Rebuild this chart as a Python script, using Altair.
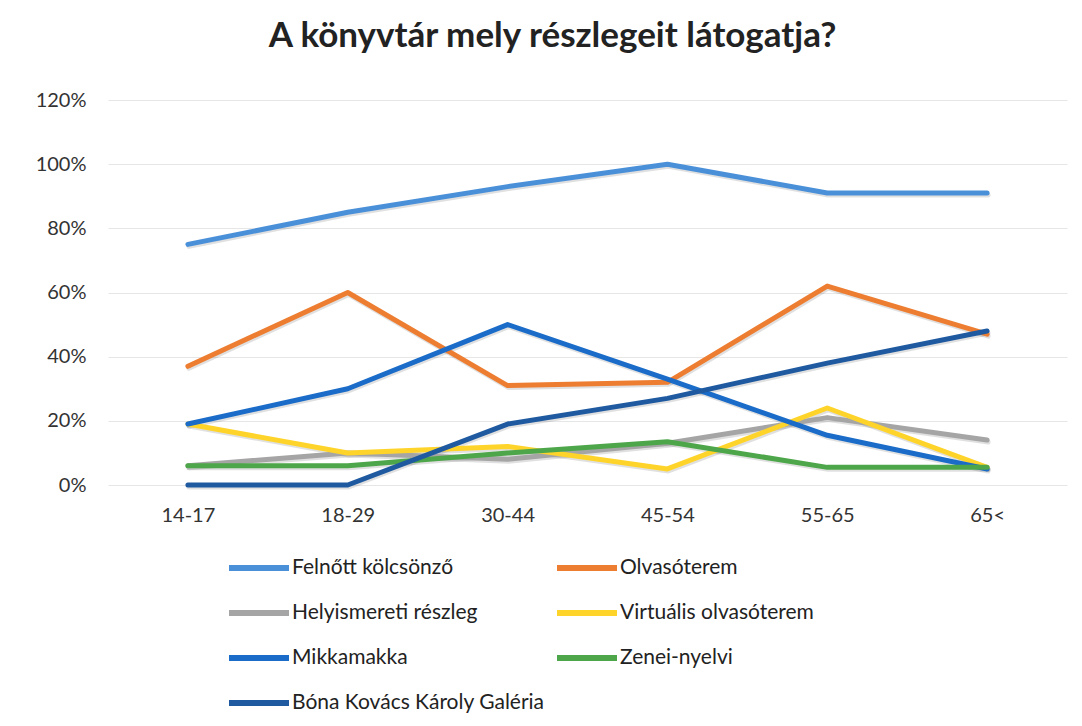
import altair as alt
import pandas as pd

ages = ["14-17", "18-29", "30-44", "45-54", "55-65", "65<"]
series = [
    "Felnőtt kölcsönző",
    "Olvasóterem",
    "Helyismereti részleg",
    "Virtuális olvasóterem",
    "Mikkamakka",
    "Zenei-nyelvi",
    "Bóna Kovács Károly Galéria",
]
felnott = [0.75, 0.85, 0.93, 1.00, 0.91, 0.91]
olvaso = [0.37, 0.60, 0.31, 0.32, 0.62, 0.47]
helyism = [0.06, 0.10, 0.08, 0.13, 0.21, 0.14]
virtualis = [0.19, 0.10, 0.12, 0.05, 0.24, 0.055]
mikkamakka = [0.19, 0.30, 0.50, 0.33, 0.155, 0.05]
zenei = [0.06, 0.06, 0.10, 0.135, 0.055, 0.055]
bona = [0.0, 0.0, 0.19, 0.27, 0.38, 0.48]
colors = ["#4A90D9", "#ED7D31", "#A5A5A5", "#FFD42A", "#1A6CC8", "#4EA64A", "#1F5AA0"]

values = [felnott, olvaso, helyism, virtualis, mikkamakka, zenei, bona]
rows = []
for si, (name, vals) in enumerate(zip(series, values)):
    for a, v in zip(ages, vals):
        rows.append({"age": a, "series": name, "value": v, "order": si})
df = pd.DataFrame(rows)

FONT = "Lato"

x_enc = alt.X("age:N", sort=ages, title=None,
              scale=alt.Scale(type="point", padding=0.5),
              axis=alt.Axis(labelAngle=0, labelFontSize=20, labelColor="#333333", labelFont=FONT,
                            ticks=False, domain=False, grid=False, labelPadding=20))
y_enc = alt.Y("value:Q", title=None,
              scale=alt.Scale(domain=[0, 1.2], nice=False),
              axis=alt.Axis(format="%", values=[0, 0.2, 0.4, 0.6, 0.8, 1.0, 1.2],
                            labelFontSize=20, labelColor="#333333", labelFont=FONT,
                            ticks=False, domain=False, gridColor="#E6E6E6", gridWidth=1,
                            labelPadding=22))

shadow = alt.Chart(df).mark_line(strokeWidth=5, strokeCap="round", strokeJoin="round",
                                 color="#000000", opacity=0.12, yOffset=2, xOffset=1).encode(
    x=x_enc, y=y_enc, detail="series:N", order=alt.Order("order:Q"))

lines = alt.Chart(df).mark_line(strokeWidth=5, strokeCap="round", strokeJoin="round").encode(
    x=x_enc,
    y=y_enc,
    color=alt.Color("series:N", sort=series,
                    scale=alt.Scale(domain=series, range=colors),
                    legend=alt.Legend(title=None, orient="none", legendX=118, legendY=435,
                                      direction="horizontal",
                                      columns=2, symbolType="stroke", symbolSize=3600,
                                      symbolStrokeWidth=6, labelFontSize=21, labelFont=FONT,
                                      labelColor="#222222", rowPadding=-18, columnPadding=0,
                                      labelOffset=0, labelLimit=400)),
    order=alt.Order("order:Q"),
)

chart = alt.layer(shadow, lines).properties(
    width=959,
    height=385,
    title=alt.TitleParams("A könyvtár mely részlegeit látogatja?", fontSize=35, font=FONT,
                          fontWeight="bold", color="#222222", anchor="middle", dx=-35, offset=36),
    padding={"left": 100, "top": 92, "right": 7, "bottom": 233},
    autosize=alt.AutoSizeParams(type="none"),
).configure_view(stroke=None)

chart.save("out.html", embed_options={"renderer": "svg", "actions": False})
